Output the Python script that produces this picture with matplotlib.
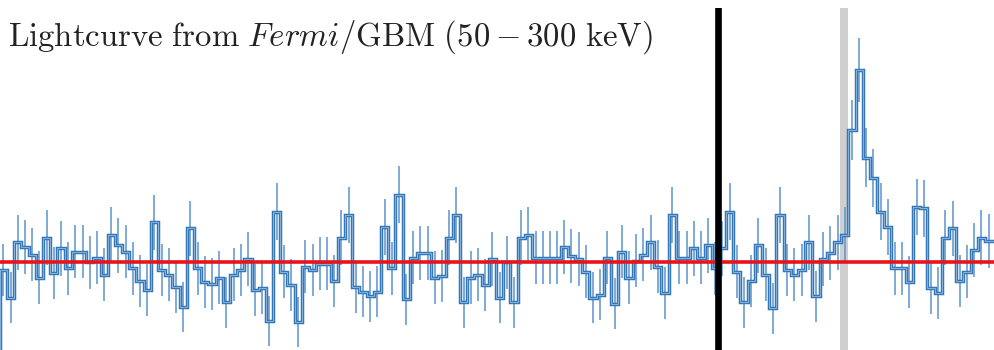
import numpy as np
import matplotlib
matplotlib.use("Agg")
import matplotlib.pyplot as plt

plt.rcParams["mathtext.fontset"] = "cm"

# Counts per bin (Fermi/GBM 50-300 keV)
counts = [295, 277, 313, 310, 305, 290, 316, 293, 309, 296,
          307, 307, 300, 303, 292, 318, 311, 307, 296, 288,
          282, 326, 295, 292, 284, 271, 322, 296, 287, 286,
          290, 274, 292, 295, 302, 282, 283, 262, 333, 294,
          285, 261, 297, 295, 299, 299, 288, 316, 331, 284,
          281, 278, 281, 323, 296, 344, 276, 303, 306, 306,
          290, 291, 316, 331, 274, 290, 292, 285, 302, 277,
          300, 274, 316, 318, 303, 303, 303, 303, 310, 304,
          302, 294, 277, 279, 303, 273, 307, 290, 301, 305,
          313, 297, 280, 331, 303, 303, 309, 303, 311, 296,
          309, 333, 294, 274, 288, 311, 292, 270, 331, 295,
          292, 295, 313, 278, 302, 306, 313, 318, 386, 425,
          368, 355, 333, 323, 296, 296, 287, 336, 335, 283,
          280, 316, 322, 288, 294, 308, 316, 314, 314]
bin_width = 0.5          # s
first_edge = -49.94      # s, left edge of first bin
background = 300         # counts per bin
trigger_time = 0.0       # s
highlight = (8.48, 9.04) # s
title = (r"$\mathrm{Lightcurve\ from\ }\mathit{Fermi}"
         r"\mathrm{/GBM\ (}50-300\mathrm{\ keV)}$")

counts = np.asarray(counts, dtype=float)
edges = first_edge + bin_width * np.arange(len(counts) + 1)
centers = edges[:-1] + bin_width / 2
errors = np.sqrt(counts)

fig = plt.figure(figsize=(9.94, 3.5), dpi=100)
fig.patch.set_facecolor("white")
ax = fig.add_axes([0, 0, 1, 342 / 350])

ax.axvspan(*highlight, color="#cfcfcf", lw=0, zorder=1)
ax.errorbar(centers, counts, yerr=errors, fmt="none", ecolor="#5a93cb",
            elinewidth=1.1, zorder=2)
ax.stairs(counts, edges, color="#3474b4", lw=2.5, zorder=3)
ax.stairs(counts, edges, color="#7fb0de", lw=0.8, zorder=3.5)
ax.axhline(background, color="#e8141c", lw=2.6, zorder=4)
ax.axvline(trigger_time, color="black", lw=4.8, zorder=5)

ax.set_xlim(-49.93, 19.19)
ax.set_ylim(243, 465.3)
ax.axis("off")

fig.text(8 / 994, 1 - 46 / 350, title, fontsize=23.6, ha="left",
         va="baseline", color="#222222")

fig.savefig("out.png", dpi=100, facecolor="white")
